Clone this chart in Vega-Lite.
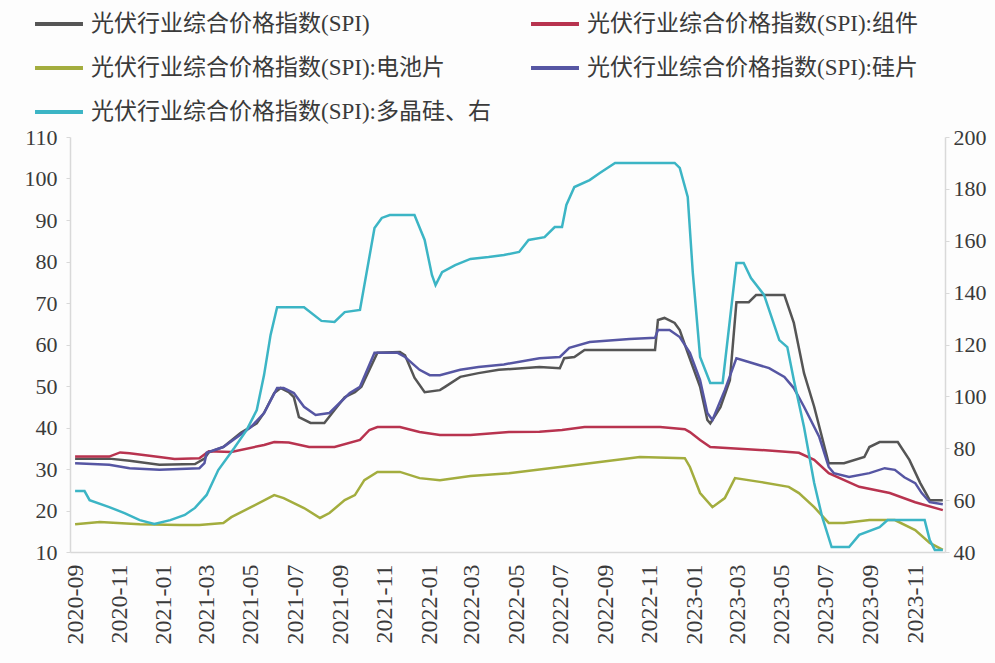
{
  "$schema": "https://vega.github.io/schema/vega-lite/v6.json",
  "width": 875,
  "height": 415,
  "autosize": "none",
  "padding": {"left": 70, "top": 137, "right": 50, "bottom": 111},
  "background": "#fdfdfd",
  "config": {
    "view": {"stroke": null},
    "font": "Liberation Serif, Noto Sans CJK SC",
    "axis": {"labelFont": "Liberation Serif", "labelColor": "#3a3a3a", "domainColor": "#d9d9d9", "tickColor": "#d9d9d9", "grid": false, "title": null}
  },
  "data": {"values": [
    {"d":"2020-09-01","s":"e","v":63.5},{"d":"2020-09-14","s":"e","v":63.5},{"d":"2020-09-21","s":"e","v":60.0},{"d":"2020-10-18","s":"e","v":57.3},{"d":"2020-11-08","s":"e","v":55.0},{"d":"2020-11-29","s":"e","v":52.3},{"d":"2020-12-19","s":"e","v":50.8},{"d":"2021-01-10","s":"e","v":52.3},{"d":"2021-01-30","s":"e","v":54.3},{"d":"2021-02-13","s":"e","v":57.0},{"d":"2021-03-01","s":"e","v":62.0},{"d":"2021-03-17","s":"e","v":71.6},{"d":"2021-04-08","s":"e","v":80.1},{"d":"2021-04-25","s":"e","v":87.0},{"d":"2021-05-09","s":"e","v":94.7},{"d":"2021-05-19","s":"e","v":108.2},{"d":"2021-05-28","s":"e","v":123.7},{"d":"2021-06-06","s":"e","v":134.4},{"d":"2021-07-13","s":"e","v":134.4},{"d":"2021-08-06","s":"e","v":129.1},{"d":"2021-08-24","s":"e","v":128.7},{"d":"2021-09-07","s":"e","v":132.5},{"d":"2021-09-28","s":"e","v":133.3},{"d":"2021-10-18","s":"e","v":164.9},{"d":"2021-10-28","s":"e","v":168.8},{"d":"2021-11-08","s":"e","v":169.9},{"d":"2021-12-12","s":"e","v":169.9},{"d":"2021-12-26","s":"e","v":160.3},{"d":"2022-01-05","s":"e","v":146.8},{"d":"2022-01-10","s":"e","v":142.9},{"d":"2022-01-19","s":"e","v":147.9},{"d":"2022-02-06","s":"e","v":150.6},{"d":"2022-02-27","s":"e","v":153.0},{"d":"2022-03-24","s":"e","v":153.7},{"d":"2022-04-14","s":"e","v":154.5},{"d":"2022-05-05","s":"e","v":155.7},{"d":"2022-05-18","s":"e","v":160.3},{"d":"2022-06-09","s":"e","v":161.4},{"d":"2022-06-23","s":"e","v":165.3},{"d":"2022-07-03","s":"e","v":165.3},{"d":"2022-07-09","s":"e","v":173.8},{"d":"2022-07-20","s":"e","v":180.7},{"d":"2022-08-10","s":"e","v":183.4},{"d":"2022-08-24","s":"e","v":186.1},{"d":"2022-09-14","s":"e","v":190.0},{"d":"2022-12-05","s":"e","v":190.0},{"d":"2022-12-12","s":"e","v":188.1},{"d":"2022-12-23","s":"e","v":176.9},{"d":"2022-12-30","s":"e","v":147.6},{"d":"2023-01-09","s":"e","v":115.2},{"d":"2023-01-23","s":"e","v":105.2},{"d":"2023-02-09","s":"e","v":105.2},{"d":"2023-02-28","s":"e","v":151.4},{"d":"2023-03-10","s":"e","v":151.4},{"d":"2023-03-20","s":"e","v":145.6},{"d":"2023-04-07","s":"e","v":139.1},{"d":"2023-04-28","s":"e","v":121.7},{"d":"2023-05-09","s":"e","v":119.0},{"d":"2023-05-18","s":"e","v":106.3},{"d":"2023-06-01","s":"e","v":88.2},{"d":"2023-06-15","s":"e","v":66.6},{"d":"2023-06-26","s":"e","v":53.5},{"d":"2023-07-09","s":"e","v":41.9},{"d":"2023-08-02","s":"e","v":41.9},{"d":"2023-08-16","s":"e","v":46.6},{"d":"2023-09-13","s":"e","v":49.6},{"d":"2023-09-24","s":"e","v":52.3},{"d":"2023-11-14","s":"e","v":52.3},{"d":"2023-11-21","s":"e","v":44.6},{"d":"2023-11-28","s":"e","v":40.8},{"d":"2023-12-09","s":"e","v":40.8},

    {"d":"2020-09-01","s":"a","v":32.5},{"d":"2020-10-18","s":"a","v":32.5},{"d":"2020-11-15","s":"a","v":32.0},{"d":"2020-12-26","s":"a","v":31.0},{"d":"2021-02-13","s":"a","v":31.2},{"d":"2021-02-26","s":"a","v":32.5},{"d":"2021-03-04","s":"a","v":34.0},{"d":"2021-03-24","s":"a","v":35.3},{"d":"2021-04-17","s":"a","v":38.7},{"d":"2021-05-09","s":"a","v":41.0},{"d":"2021-05-19","s":"a","v":43.5},{"d":"2021-06-02","s":"a","v":48.3},{"d":"2021-06-11","s":"a","v":49.5},{"d":"2021-06-22","s":"a","v":48.5},{"d":"2021-06-29","s":"a","v":47.3},{"d":"2021-07-06","s":"a","v":42.5},{"d":"2021-07-22","s":"a","v":41.1},{"d":"2021-08-10","s":"a","v":41.1},{"d":"2021-08-24","s":"a","v":44.2},{"d":"2021-09-07","s":"a","v":47.3},{"d":"2021-09-21","s":"a","v":48.5},{"d":"2021-09-30","s":"a","v":49.8},{"d":"2021-10-22","s":"a","v":58.0},{"d":"2021-11-22","s":"a","v":58.2},{"d":"2021-11-29","s":"a","v":57.4},{"d":"2021-12-12","s":"a","v":52.0},{"d":"2021-12-26","s":"a","v":48.5},{"d":"2022-01-16","s":"a","v":49.0},{"d":"2022-01-23","s":"a","v":49.8},{"d":"2022-02-13","s":"a","v":52.2},{"d":"2022-03-10","s":"a","v":53.1},{"d":"2022-04-07","s":"a","v":53.9},{"d":"2022-06-02","s":"a","v":54.6},{"d":"2022-06-30","s":"a","v":54.3},{"d":"2022-07-06","s":"a","v":56.7},{"d":"2022-07-20","s":"a","v":57.0},{"d":"2022-08-03","s":"a","v":58.7},{"d":"2022-11-08","s":"a","v":58.7},{"d":"2022-11-12","s":"a","v":65.9},{"d":"2022-11-21","s":"a","v":66.4},{"d":"2022-12-05","s":"a","v":65.2},{"d":"2022-12-12","s":"a","v":63.5},{"d":"2022-12-23","s":"a","v":58.0},{"d":"2023-01-09","s":"a","v":49.8},{"d":"2023-01-19","s":"a","v":41.8},{"d":"2023-01-23","s":"a","v":41.0},{"d":"2023-02-06","s":"a","v":44.9},{"d":"2023-02-19","s":"a","v":51.4},{"d":"2023-02-28","s":"a","v":70.2},{"d":"2023-03-17","s":"a","v":70.2},{"d":"2023-03-27","s":"a","v":71.9},{"d":"2023-05-05","s":"a","v":71.9},{"d":"2023-05-18","s":"a","v":65.2},{"d":"2023-06-01","s":"a","v":53.1},{"d":"2023-06-15","s":"a","v":45.0},{"d":"2023-07-05","s":"a","v":31.4},{"d":"2023-07-26","s":"a","v":31.4},{"d":"2023-08-23","s":"a","v":32.9},{"d":"2023-08-30","s":"a","v":35.3},{"d":"2023-09-13","s":"a","v":36.5},{"d":"2023-10-08","s":"a","v":36.5},{"d":"2023-10-24","s":"a","v":32.2},{"d":"2023-11-08","s":"a","v":26.6},{"d":"2023-11-21","s":"a","v":22.5},{"d":"2023-12-09","s":"a","v":22.5},

    {"d":"2020-09-01","s":"b","v":33.0},{"d":"2020-10-18","s":"b","v":33.0},{"d":"2020-11-02","s":"b","v":34.0},{"d":"2020-11-15","s":"b","v":33.8},{"d":"2020-12-26","s":"b","v":32.9},{"d":"2021-01-16","s":"b","v":32.4},{"d":"2021-02-19","s":"b","v":32.6},{"d":"2021-03-04","s":"b","v":34.3},{"d":"2021-04-04","s":"b","v":34.1},{"d":"2021-05-19","s":"b","v":35.8},{"d":"2021-06-02","s":"b","v":36.5},{"d":"2021-06-22","s":"b","v":36.4},{"d":"2021-07-20","s":"b","v":35.3},{"d":"2021-08-24","s":"b","v":35.3},{"d":"2021-09-28","s":"b","v":37.0},{"d":"2021-10-11","s":"b","v":39.4},{"d":"2021-10-22","s":"b","v":40.1},{"d":"2021-11-22","s":"b","v":40.1},{"d":"2021-12-19","s":"b","v":38.9},{"d":"2022-01-16","s":"b","v":38.2},{"d":"2022-02-27","s":"b","v":38.2},{"d":"2022-04-21","s":"b","v":38.9},{"d":"2022-06-02","s":"b","v":39.0},{"d":"2022-07-03","s":"b","v":39.4},{"d":"2022-08-03","s":"b","v":40.1},{"d":"2022-11-15","s":"b","v":40.1},{"d":"2022-12-19","s":"b","v":39.6},{"d":"2022-12-26","s":"b","v":38.9},{"d":"2023-01-09","s":"b","v":37.0},{"d":"2023-01-23","s":"b","v":35.3},{"d":"2023-04-01","s":"b","v":34.6},{"d":"2023-05-25","s":"b","v":33.9},{"d":"2023-06-15","s":"b","v":32.2},{"d":"2023-07-05","s":"b","v":29.0},{"d":"2023-08-16","s":"b","v":25.7},{"d":"2023-09-27","s":"b","v":24.2},{"d":"2023-11-01","s":"b","v":22.0},{"d":"2023-12-09","s":"b","v":20.1},

    {"d":"2020-09-01","s":"c","v":16.7},{"d":"2020-10-05","s":"c","v":17.2},{"d":"2020-11-29","s":"c","v":16.7},{"d":"2021-01-23","s":"c","v":16.5},{"d":"2021-02-19","s":"c","v":16.5},{"d":"2021-03-24","s":"c","v":17.0},{"d":"2021-04-04","s":"c","v":18.4},{"d":"2021-05-01","s":"c","v":20.8},{"d":"2021-06-02","s":"c","v":23.7},{"d":"2021-06-15","s":"c","v":23.0},{"d":"2021-07-13","s":"c","v":20.6},{"d":"2021-08-04","s":"c","v":18.2},{"d":"2021-08-17","s":"c","v":19.4},{"d":"2021-09-07","s":"c","v":22.5},{"d":"2021-09-21","s":"c","v":23.7},{"d":"2021-10-04","s":"c","v":27.3},{"d":"2021-10-22","s":"c","v":29.3},{"d":"2021-11-22","s":"c","v":29.3},{"d":"2021-12-19","s":"c","v":27.8},{"d":"2022-01-16","s":"c","v":27.3},{"d":"2022-02-27","s":"c","v":28.3},{"d":"2022-04-21","s":"c","v":29.0},{"d":"2022-06-30","s":"c","v":30.5},{"d":"2022-08-24","s":"c","v":31.7},{"d":"2022-10-18","s":"c","v":32.9},{"d":"2022-12-19","s":"c","v":32.6},{"d":"2022-12-26","s":"c","v":30.5},{"d":"2023-01-09","s":"c","v":24.2},{"d":"2023-01-26","s":"c","v":20.8},{"d":"2023-02-12","s":"c","v":23.0},{"d":"2023-02-26","s":"c","v":27.8},{"d":"2023-04-01","s":"c","v":26.9},{"d":"2023-05-11","s":"c","v":25.7},{"d":"2023-05-25","s":"c","v":24.2},{"d":"2023-06-15","s":"c","v":20.8},{"d":"2023-07-05","s":"c","v":17.0},{"d":"2023-07-26","s":"c","v":17.0},{"d":"2023-08-30","s":"c","v":17.7},{"d":"2023-10-04","s":"c","v":17.7},{"d":"2023-11-01","s":"c","v":15.3},{"d":"2023-11-21","s":"c","v":12.2},{"d":"2023-12-09","s":"c","v":10.5},

    {"d":"2020-09-01","s":"d","v":31.4},{"d":"2020-10-18","s":"d","v":31.0},{"d":"2020-11-15","s":"d","v":30.2},{"d":"2020-12-26","s":"d","v":29.8},{"d":"2021-02-19","s":"d","v":30.2},{"d":"2021-02-26","s":"d","v":31.4},{"d":"2021-03-01","s":"d","v":33.9},{"d":"2021-03-24","s":"d","v":35.3},{"d":"2021-05-01","s":"d","v":40.1},{"d":"2021-05-19","s":"d","v":43.5},{"d":"2021-06-06","s":"d","v":49.5},{"d":"2021-06-15","s":"d","v":49.5},{"d":"2021-06-29","s":"d","v":48.3},{"d":"2021-07-13","s":"d","v":45.0},{"d":"2021-07-29","s":"d","v":43.0},{"d":"2021-08-17","s":"d","v":43.5},{"d":"2021-08-31","s":"d","v":45.9},{"d":"2021-09-14","s":"d","v":48.3},{"d":"2021-09-28","s":"d","v":49.8},{"d":"2021-10-18","s":"d","v":58.0},{"d":"2021-11-19","s":"d","v":58.0},{"d":"2021-11-29","s":"d","v":57.0},{"d":"2021-12-19","s":"d","v":53.9},{"d":"2022-01-02","s":"d","v":52.6},{"d":"2022-01-16","s":"d","v":52.6},{"d":"2022-02-13","s":"d","v":53.9},{"d":"2022-03-10","s":"d","v":54.6},{"d":"2022-04-14","s":"d","v":55.2},{"d":"2022-06-02","s":"d","v":56.7},{"d":"2022-06-30","s":"d","v":57.0},{"d":"2022-07-13","s":"d","v":59.2},{"d":"2022-08-10","s":"d","v":60.6},{"d":"2022-10-04","s":"d","v":61.3},{"d":"2022-11-08","s":"d","v":61.6},{"d":"2022-11-12","s":"d","v":63.5},{"d":"2022-11-28","s":"d","v":63.5},{"d":"2022-12-12","s":"d","v":61.8},{"d":"2022-12-26","s":"d","v":58.0},{"d":"2023-01-09","s":"d","v":51.4},{"d":"2023-01-19","s":"d","v":43.5},{"d":"2023-01-26","s":"d","v":41.8},{"d":"2023-02-12","s":"d","v":49.0},{"d":"2023-02-28","s":"d","v":56.7},{"d":"2023-03-17","s":"d","v":55.8},{"d":"2023-04-14","s":"d","v":54.3},{"d":"2023-05-05","s":"d","v":52.2},{"d":"2023-05-18","s":"d","v":49.5},{"d":"2023-06-01","s":"d","v":45.0},{"d":"2023-06-22","s":"d","v":37.7},{"d":"2023-07-05","s":"d","v":30.5},{"d":"2023-07-12","s":"d","v":29.0},{"d":"2023-08-02","s":"d","v":28.1},{"d":"2023-08-30","s":"d","v":29.0},{"d":"2023-09-20","s":"d","v":30.2},{"d":"2023-10-04","s":"d","v":29.8},{"d":"2023-10-17","s":"d","v":28.0},{"d":"2023-11-01","s":"d","v":26.6},{"d":"2023-11-10","s":"d","v":24.2},{"d":"2023-11-21","s":"d","v":22.0},{"d":"2023-12-09","s":"d","v":21.5}
  ]},
  "encoding": {
    "x": {
      "field": "d", "type": "temporal",
      "scale": {"domain": ["2020-08-25", "2023-12-12"]},
      "axis": {
        "format": "%Y-%m", "labelAngle": 270, "labelFontSize": 24, "labelPadding": 12,
        "tickCount": {"interval": "month", "step": 2}, "ticks": false, "labelOverlap": false,
        "domainColor": "#d9d9d9", "domainWidth": 1.5
      }
    },
    "color": {
      "field": "s", "type": "nominal",
      "scale": {"domain": ["a", "b", "c", "d", "e"], "range": ["#555555", "#b8334f", "#a3ad3e", "#5656a3", "#3cb5c5"]},
      "legend": {
        "orient": "none", "legendX": -37, "legendY": -139, "direction": "horizontal", "columns": 2,
        "title": null, "symbolType": "stroke", "symbolSize": 2300, "symbolStrokeWidth": 4,
        "labelFontSize": 23, "labelFont": "Liberation Serif, Noto Sans CJK SC", "labelColor": "#3a3a3a",
        "labelLimit": 700, "columnPadding": 32, "rowPadding": 6, "labelOffset": 6,
        "labelExpr": "datum.value == 'a' ? '光伏行业综合价格指数(SPI)' : datum.value == 'b' ? '光伏行业综合价格指数(SPI):组件' : datum.value == 'c' ? '光伏行业综合价格指数(SPI):电池片' : datum.value == 'd' ? '光伏行业综合价格指数(SPI):硅片' : '光伏行业综合价格指数(SPI):多晶硅、右'"
      }
    }
  },
  "layer": [
    {
      "transform": [{"filter": "datum.s != 'e'"}],
      "mark": {"type": "line", "strokeWidth": 2.5},
      "encoding": {
        "y": {
          "field": "v", "type": "quantitative",
          "scale": {"domain": [10, 110], "nice": false, "zero": false},
          "axis": {"values": [10, 20, 30, 40, 50, 60, 70, 80, 90, 100, 110], "labelFontSize": 22, "tickSize": 4, "labelPadding": 9, "domainWidth": 1.5}
        }
      }
    },
    {
      "transform": [{"filter": "datum.s == 'e'"}],
      "mark": {"type": "line", "strokeWidth": 2.5},
      "encoding": {
        "y": {
          "field": "v", "type": "quantitative",
          "scale": {"domain": [40, 200], "nice": false, "zero": false},
          "axis": {"orient": "right", "values": [40, 60, 80, 100, 120, 140, 160, 180, 200], "labelFontSize": 22, "tickSize": 4, "labelPadding": 4, "domainWidth": 1.5}
        }
      }
    }
  ],
  "resolve": {"scale": {"y": "independent"}}
}
